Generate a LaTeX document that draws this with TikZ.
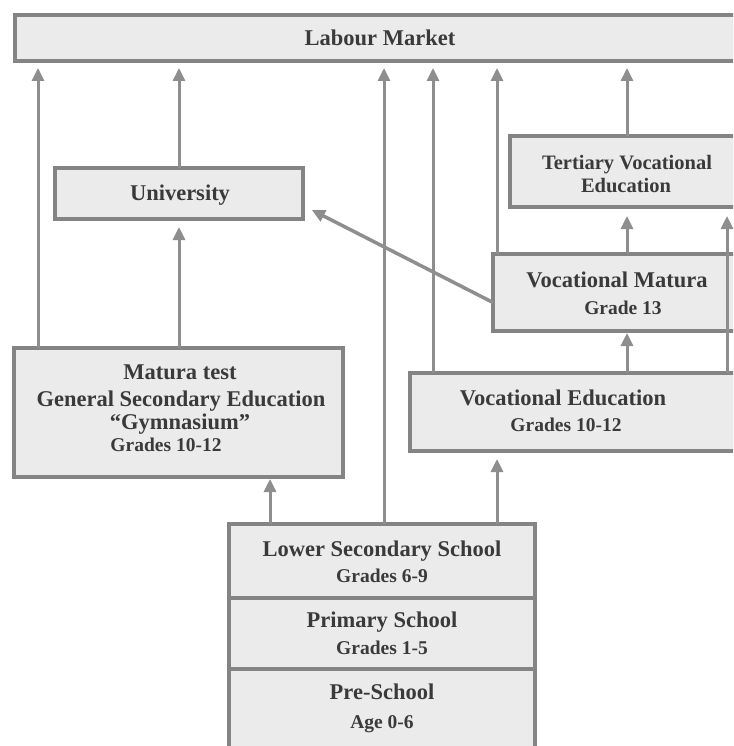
\documentclass[tikz,border=0pt]{standalone}
\usepackage{fontspec}
\setmainfont{Liberation Serif}
\usetikzlibrary{arrows.meta}
\definecolor{boxfill}{HTML}{EBEBEB}
\definecolor{boxline}{HTML}{848484}
\definecolor{linkgray}{HTML}{8E8E8E}
\definecolor{ink}{HTML}{3A3A3A}

\begin{document}
\begin{tikzpicture}[x=1pt,y=-1pt,
  stage/.style={draw=boxline, fill=boxfill, line width=3.5pt, rectangle,
    inner sep=0pt, outer sep=0pt, anchor=north west},
  title/.style={text=ink, inner sep=0pt, anchor=base,
    font=\bfseries\fontsize{22.5}{25}\selectfont},
  smalltitle/.style={text=ink, inner sep=0pt, anchor=base,
    font=\bfseries\fontsize{20.5}{23}\selectfont},
  grade/.style={text=ink, inner sep=0pt, anchor=base,
    font=\bfseries\fontsize{19.5}{22}\selectfont},
  link/.style={draw=linkgray, line width=3pt},
  up/.style={link, -{Triangle[width=12pt,length=13pt]}},
]
\useasboundingbox (0,0) rectangle (733,746);
\clip (0,0) rectangle (733,746);

% stages of the school system
\node[stage, minimum width=760pt, minimum height=46pt]  (lm)   at (15,15)  {};
\node[stage, minimum width=248pt, minimum height=51pt]  (uni)  at (55,168) {};
\node[stage, minimum width=329pt, minimum height=129pt] (mat)  at (14,348) {};
\node[stage, minimum width=250pt, minimum height=71pt]  (ter)  at (510,136) {};
\node[stage, minimum width=260pt, minimum height=77pt]  (vmat) at (493,254) {};
\node[stage, minimum width=350pt, minimum height=78pt]  (ved)  at (410,373) {};
\node[stage, minimum width=306pt, minimum height=100pt] (pre)  at (229,669) {};
\node[stage, minimum width=306pt, minimum height=71pt]  (prim) at (229,598) {};
\node[stage, minimum width=306pt, minimum height=74pt]  (lsec) at (229,524) {};

% labels
\node[title] (lm-t) at (380,45.5) {Labour Market};
\node[title] (uni-t) at (180,200.5) {University};
\node[title] (mat-t1) at (180,379.5) {Matura test};
\node[title] (mat-t2) at (181,406.5) {General Secondary Education};
\node[title] (mat-t3) at (180,429.5) {“Gymnasium”};
\node[grade] (mat-g) at (166,451.5) {Grades 10-12};
\node[smalltitle] (ter-t1) at (627,169) {Tertiary Vocational};
\node[smalltitle] (ter-t2) at (626,192) {Education};
\node[title] (vmat-t) at (617,287.5) {Vocational Matura};
\node[grade] (vmat-g) at (623,314.5) {Grade 13};
\node[title] (ved-t) at (563,405.5) {Vocational Education};
\node[grade] (ved-g) at (566,431.5) {Grades 10-12};
\node[title] (lsec-t) at (382,556.5) {Lower Secondary School};
\node[grade] (lsec-g) at (382,582.5) {Grades 6-9};
\node[title] (prim-t) at (382,627.5) {Primary School};
\node[grade] (prim-g) at (382,654.5) {Grades 1-5};
\node[title] (pre-t) at (382,699.5) {Pre-School};
\node[grade] (pre-g) at (382,728.5) {Age 0-6};

% columns of the connectors
\coordinate (cA) at (38,0);
\coordinate (cB) at (179,0);
\coordinate (cC) at (270,0);
\coordinate (cD) at (384,0);
\coordinate (cE) at (433,0);
\coordinate (cF) at (497,0);
\coordinate (cG) at (627,0);
\coordinate (cH) at (727,0);

% routes into the labour market
\draw[up, shorten >=7pt] (mat.north -| cA)  -- (lm.south -| cA);
\draw[up, shorten >=7pt] (uni.north -| cB)  -- (lm.south -| cB);
\draw[up, shorten >=7pt] (lsec.north -| cD) -- (lm.south -| cD);
\draw[up, shorten >=7pt] (ved.north -| cE)  -- (lm.south -| cE);
\draw[up, shorten >=7pt] (vmat.north -| cF) -- (lm.south -| cF);
\draw[up, shorten >=7pt] (ter.north -| cG)  -- (lm.south -| cG);

% routes between stages
\draw[up, shorten >=8pt] (mat.north -| cB)  -- (uni.south -| cB);
\draw[up, shorten >=2pt] (lsec.north -| cC) -- (mat.south -| cC);
\draw[up, shorten >=8pt] (lsec.north -| cF) -- (ved.south -| cF);
\draw[up, shorten >=2pt] (ved.north -| cG)  -- (vmat.south -| cG);
\draw[up, shorten >=9pt] (vmat.north -| cG) -- (ter.south -| cG);
\draw[up, shorten >=9pt] (ved.north -| cH)  -- (ter.south -| cH);
\draw[up, line width=3.5pt, shorten >=10pt]
  ([yshift=-10pt]vmat.west) -- ([yshift=-12pt]uni.east);
\end{tikzpicture}
\end{document}
